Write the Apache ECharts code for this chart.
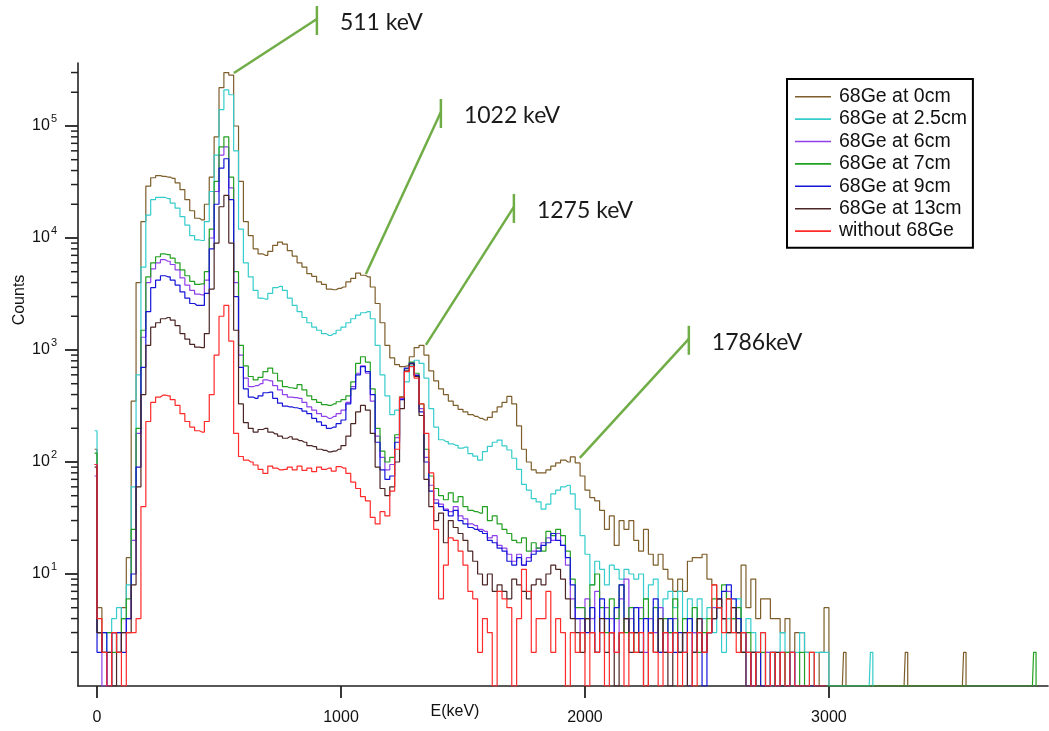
<!DOCTYPE html>
<html>
<head>
<meta charset="utf-8">
<script src="https://cdn.jsdelivr.net/npm/echarts@6/dist/echarts.min.js"></script>
<style>
  html, body { margin: 0; padding: 0; background: #ffffff; }
  #chart { width: 1049px; height: 731px; }
</style>
</head>
<body>
<div id="chart"></div>
<script>
// Gamma spectra: counts per 20 keV bin, bin centres start at -10 keV
const binStart = -10;
const binWidth = 20;

const seriesNames = ['68Ge at 0cm', '68Ge at 2.5cm', '68Ge at 6cm', '68Ge at 7cm',
                     '68Ge at 9cm', '68Ge at 13cm', 'without 68Ge'];
const seriesColors = ['#7d5d2a', '#36cccc', '#9040e8', '#22a022', '#1515d8', '#4b2424', '#ff2a2a'];

const counts0cm = [
  130, 5, 2, 1, 3, 2, 5, 14, 350, 4000,
  14000, 29000, 34500, 36000, 35500, 35000, 34000, 31000, 27000, 22000,
  17500, 15000, 14500, 20000, 35000, 80000, 220000, 300000, 285000, 100000,
  32000, 14000, 10500, 8000, 7200, 7000, 7600, 8600, 9200, 8800,
  7700, 6900, 6000, 5500, 4800, 4550, 4050, 3850, 3500, 3450,
  3550, 3650, 4050, 4350, 4850, 4650, 4500, 3650, 2600, 1750,
  1100, 850, 740, 710, 720, 870, 1050, 1100, 900, 650,
  530, 450, 400, 350, 320, 295, 280, 265, 255, 245,
  237, 250, 280, 310, 340, 385, 330, 210, 130, 100,
  85, 80, 80, 85, 92, 98, 104, 100, 111, 98,
  75, 56, 48, 45, 37, 25, 33, 18, 30, 25,
  30, 20, 16, 25, 15, 12, 15, 11, 9, 7,
  9, 7, 13, 14, 14, 15, 9, 8, 6, 4,
  3, 4, 3, 12, 5, 9, 4, 6, 6, 4,
  4, 3, 4, 2, 3, 3, 2, 2, 1, 2,
  5
];
const counts2_5cm = [
  190, 3, 2, 3, 4, 5, 4, 8, 60, 600,
  5500, 16000, 22000, 23000, 23000, 22500, 20500, 18500, 15500, 13000,
  10500, 9600, 9500, 14000, 26000, 55000, 140000, 210000, 190000, 60000,
  12000, 6000, 4500, 3400, 2900, 2850, 3200, 3600, 3700, 3400,
  2900, 2500, 2200, 1950, 1750, 1600, 1500, 1400, 1350, 1400,
  1500, 1600, 1750, 1900, 2050, 2150, 2200, 1900, 1100, 600,
  390, 265, 290, 380, 520, 720, 810, 760, 560, 300,
  205, 158, 152, 145, 141, 133, 136, 119, 113, 104,
  124, 138, 150, 157, 139, 128, 108, 86, 63, 56,
  47, 44, 38, 42, 52, 56, 60, 62, 52, 38,
  22, 15, 8, 13, 11, 8, 12, 11, 9, 11,
  10, 9, 10, 6, 8, 9, 4, 6, 7, 5,
  7, 4, 6, 3, 6, 4, 5, 3, 5, 2,
  4, 3, 6, 2, 4, 3, 2, 3, 2, 1,
  2, 3, 2, 1, 2, 3, 2, 1, 2, 2,
  2
];
const counts6cm = [
  75, 3, 1, 2, 3, 2, 3, 4, 20, 180,
  1300, 4000, 5300, 6000, 6400, 6200, 5800, 5200, 4400, 3800,
  3400, 3150, 3100, 4200, 10000, 26000, 55000, 65000, 28000, 4000,
  900, 560, 470, 480, 500, 540, 530, 480, 440, 400,
  380, 375, 370, 340, 310, 290, 270, 255, 245, 255,
  270, 290, 340, 470, 620, 720, 620, 350, 170, 110,
  85, 95, 165, 370, 680, 770, 600, 300, 110, 62,
  46, 42, 38, 36, 40, 33, 31, 28, 27, 25,
  24, 21, 22, 18, 17, 15, 13, 15, 12, 14,
  16, 17, 19, 21, 20, 23, 18, 12, 6, 4,
  3, 6, 4, 7, 3, 5, 4, 2, 6, 9,
  4, 3, 5, 2, 4, 3, 5, 2, 3, 4,
  2, 3, 1, 3, 4, 2, 3, 5, 6, 4,
  7, 5, 3, 2, 1, 2, 1, 1, 2, 1,
  1, 2, 1, 1, 1, 1, 1, 1, 1, 1,
  1
];
const counts7cm = [
  120, 3, 3, 3, 2, 3, 4, 6, 25, 200,
  1500, 4500, 6000, 6800, 7200, 7100, 6600, 6000, 5200, 4600,
  4100, 3850, 3900, 5000, 12000, 32000, 65000, 80000, 35000, 5000,
  1100, 720, 580, 540, 570, 640, 690, 620, 530, 470,
  460, 455, 490, 440, 390, 360, 340, 325, 320, 330,
  345, 360, 390, 520, 760, 870, 780, 450, 200, 125,
  100, 110, 175, 380, 680, 780, 620, 330, 130, 75,
  58, 50, 46, 53, 44, 49, 40, 37, 36, 35,
  40, 30, 33, 28, 25, 23, 20, 19, 21, 16,
  19, 17, 16, 24, 22, 25, 22, 16, 9, 5,
  5, 4, 8, 10, 5, 3, 6, 4, 8, 3,
  5, 2, 4, 6, 3, 5, 2, 4, 3, 6,
  2, 4, 3, 5, 2, 3, 4, 6, 5, 8,
  6, 4, 5, 2, 3, 2, 1, 2, 1, 2,
  1, 1, 2, 1, 1, 2, 1, 1, 1, 1,
  1
];
const counts9cm = [
  95, 2, 3, 1, 3, 3, 2, 4, 10, 90,
  700, 2200, 3600, 4200, 4600, 4500, 4200, 3800, 3300, 2900,
  2600, 2500, 2500, 3200, 8000, 20000, 42000, 51000, 22000, 3000,
  700, 450, 380, 370, 390, 415, 420, 370, 335, 315,
  310, 305, 300, 285, 270, 245, 228, 212, 200, 205,
  220, 237, 330, 450, 600, 710, 640, 400, 150, 85,
  70, 75, 150, 360, 690, 760, 590, 280, 100, 55,
  43, 40, 37, 33, 37, 30, 28, 26, 25, 24,
  23, 20, 19, 17, 16, 13, 12, 14, 12, 13,
  15, 16, 18, 19, 23, 20, 18, 14, 8, 4,
  4, 3, 5, 2, 6, 4, 3, 5, 8, 4,
  3, 5, 2, 4, 3, 6, 2, 3, 4, 2,
  3, 2, 4, 2, 3, 1, 3, 4, 5, 7,
  8, 6, 4, 3, 2, 1, 2, 1, 1, 2,
  1, 1, 1, 2, 1, 1, 1, 1, 1, 1,
  1
];
const counts13cm = [
  90, 3, 2, 2, 1, 2, 3, 3, 8, 60,
  400, 1100, 1600, 1750, 1900, 1950, 1850, 1650, 1400, 1250,
  1120, 1060, 1050, 1400, 3500, 9000, 19000, 24000, 9000, 1500,
  330, 225, 200, 185, 195, 200, 185, 178, 170, 163,
  168, 160, 155, 150, 140, 137, 130, 127, 123, 125,
  130, 140, 170, 220, 280, 320, 290, 180, 90, 58,
  50, 60, 100, 300, 650, 750, 580, 260, 70, 40,
  30, 35, 19, 30, 26, 23, 20, 16, 13, 10,
  8, 10, 7, 8, 7, 6, 9, 8, 7, 6,
  8, 9, 8, 10, 12, 11, 9, 6, 4, 3,
  2, 4, 3, 2, 4, 2, 3, 1, 3, 4,
  2, 3, 2, 1, 3, 2, 4, 2, 1, 3,
  2, 3, 1, 2, 4, 2, 3, 4, 6, 4,
  3, 5, 3, 2, 1, 2, 1, 1, 1, 1,
  2, 1, 1, 1, 1, 1, 1, 1, 1, 1,
  1
];
const countsBackground = [
  95, 4, 2, 1, 3, 2, 1, 3, 3, 4,
  40, 230, 340, 380, 395, 390, 360, 320, 270, 230,
  205, 190, 185, 230, 400, 900, 2000, 2500, 1200, 180,
  112, 104, 100, 94, 86, 79, 92, 88, 85, 86,
  90, 85, 92, 84, 88, 82, 90, 86, 88, 83,
  91, 88, 79, 66, 58, 49, 45, 32, 28, 36,
  33, 55, 130, 380, 640, 710, 560, 330, 180, 80,
  25, 6, 12, 21, 20, 16, 12, 7, 6, 2,
  4, 3, 1, 7, 6, 5, 1, 4, 11, 7,
  2, 4, 4, 7, 2, 4, 3, 1, 3, 2,
  3, 1, 3, 2, 3, 1, 3, 2, 3, 1,
  3, 2, 3, 1, 3, 2, 1, 3, 2, 3,
  1, 2, 3, 1, 3, 2, 3, 8, 5, 3,
  6, 3, 2, 3, 2, 1, 2, 3, 1, 2,
  1, 2, 1, 2, 1, 1, 1, 2, 1, 1,
  1
];

// Isolated high-energy events: [energy keV, counts]
const events0cm = [[3065, 2], [3318, 2], [3557, 2]];
const events2_5cm = [[3175, 2]];
const events7cm = [[3844, 2]];

const seriesCounts = [counts0cm, counts2_5cm, counts6cm, counts7cm, counts9cm, counts13cm, countsBackground];
const seriesEvents = [events0cm, events2_5cm, [], events7cm, [], [], []];

// Axis ranges and ticks
const xMin = -78, xMax = 3898;
const yMin = 1, yMax = 365000;
const xTicks = [0, 1000, 2000, 3000];
const yMajorTicks = [10, 100, 1000, 10000, 100000];
const yMinorTicks = [];
[1, 10, 100, 1000, 10000, 100000].forEach(d => {
  for (let m = 2; m <= 9; m++) if (d * m <= yMax) yMinorTicks.push(d * m);
});

// Peak call-outs
const peakLabels = ['511 keV', '1022 keV', '1275 keV', '1786keV'];
const peakEnergy = [561, 1102, 1348, 1979];
const peakCounts = [297000, 4770, 1110, 109];
const calloutOffset = [[83, -54], [75, -162], [88, -138], [109, -119]];

function buildData(values, events) {
  const data = values.map((v, i) => [binStart + i * binWidth, v]);
  if (events.length) {
    data.push([binStart + values.length * binWidth, 1]);
    events.forEach(([e, c]) => {
      data.push([e - 10, 1], [e, c], [e + 10, 1]);
    });
  }
  return data;
}

const axisColor = '#222';
const textFont = 'Liberation Sans, Arial, sans-serif';

const chart = echarts.init(document.getElementById('chart'), null, { renderer: 'canvas' });

chart.setOption({
  animation: false,
  backgroundColor: '#ffffff',
  grid: { left: 78, right: 1, top: 63, bottom: 45, containLabel: false, outerBoundsMode: 'none' },
  legend: {
    orient: 'vertical',
    left: 787,
    top: 79,
    padding: [6.5, 6, 5.5, 8],
    icon: 'rect',
    itemWidth: 36,
    itemHeight: 1.6,
    itemGap: 0,
    borderColor: '#000',
    borderWidth: 2,
    backgroundColor: '#fff',
    selectedMode: false,
    textStyle: { fontSize: 19.5, lineHeight: 22.4, color: '#111', fontFamily: textFont, padding: [0, 0, 0, 3] },
    data: seriesNames
  },
  xAxis: {
    type: 'value',
    min: xMin,
    max: xMax,
    axisLine: { show: true, onZero: false, lineStyle: { color: axisColor, width: 1.6 } },
    axisTick: { show: true, length: 12, customValues: xTicks, lineStyle: { color: axisColor, width: 1.8 } },
    axisLabel: { customValues: xTicks, fontSize: 16, margin: 24, color: '#111', fontFamily: textFont,
                 formatter: v => String(v) },
    splitLine: { show: false }
  },
  yAxis: {
    type: 'log',
    logBase: 10,
    min: yMin,
    max: yMax,
    axisLine: { show: true, onZero: false, lineStyle: { color: axisColor, width: 1.6 } },
    axisTick: { show: true, length: 13, customValues: yMajorTicks, lineStyle: { color: axisColor, width: 1.8 } },
    axisLabel: {
      customValues: yMajorTicks,
      margin: 21,
      color: '#111',
      formatter: v => '{b|10}{s|' + Math.round(Math.log10(v)) + '}',
      rich: {
        b: { fontSize: 16, lineHeight: 16, fontFamily: textFont, color: '#111', verticalAlign: 'bottom' },
        s: { fontSize: 11, lineHeight: 11, fontFamily: textFont, color: '#111', verticalAlign: 'bottom', padding: [0, 0, 10, 1] }
      }
    },
    splitLine: { show: false }
  },
  series: seriesNames.map((name, k) => ({
    name: name,
    type: 'line',
    step: 'middle',
    symbol: 'none',
    showSymbol: false,
    clip: true,
    color: seriesColors[k],
    lineStyle: { color: seriesColors[k], width: 1.2 },
    data: buildData(seriesCounts[k], seriesEvents[k])
  }))
});

const graphics = [];
const toPixel = (e, c) => chart.convertToPixel({ xAxisIndex: 0, yAxisIndex: 0 }, [e, c]);

// Minor ticks of the logarithmic count axis (2..9 within each decade), placed by the axis scale
yMinorTicks.forEach(v => {
  const p = toPixel(xMin, v);
  graphics.push({
    type: 'line', silent: true, z: 40,
    shape: { x1: p[0] - 7, y1: p[1], x2: p[0], y2: p[1] },
    style: { stroke: axisColor, lineWidth: 1.5 }
  });
});

// Call-out lines with end ticks and labels, anchored to the spectrum
peakLabels.forEach((label, i) => {
  const p = toPixel(peakEnergy[i], peakCounts[i]);
  const ex = p[0] + calloutOffset[i][0];
  const ey = p[1] + calloutOffset[i][1];
  graphics.push({
    type: 'line', silent: true, z: 50,
    shape: { x1: p[0], y1: p[1], x2: ex, y2: ey },
    style: { stroke: '#70ad47', lineWidth: 2.5 }
  });
  graphics.push({
    type: 'line', silent: true, z: 50,
    shape: { x1: ex, y1: ey - 13, x2: ex, y2: ey + 16 },
    style: { stroke: '#70ad47', lineWidth: 2.5 }
  });
  graphics.push({
    type: 'text', silent: true, z: 50,
    x: ex + 23, y: ey + 4,
    style: { text: label, fill: '#1a1a1a', font: '23px Lato, "Open Sans", sans-serif', verticalAlign: 'middle', align: 'left' }
  });
});

// Axis titles
graphics.push({
  type: 'text', silent: true,
  x: 20, y: 300, rotation: Math.PI / 2,
  style: { text: 'Counts', fill: '#111', font: '16px ' + textFont, align: 'center', verticalAlign: 'middle' }
});
graphics.push({
  type: 'text', silent: true,
  x: 455, y: 712,
  style: { text: 'E(keV)', fill: '#111', font: '16px ' + textFont, align: 'center', verticalAlign: 'middle' }
});
chart.setOption({ graphic: graphics });
</script>
</body>
</html>
